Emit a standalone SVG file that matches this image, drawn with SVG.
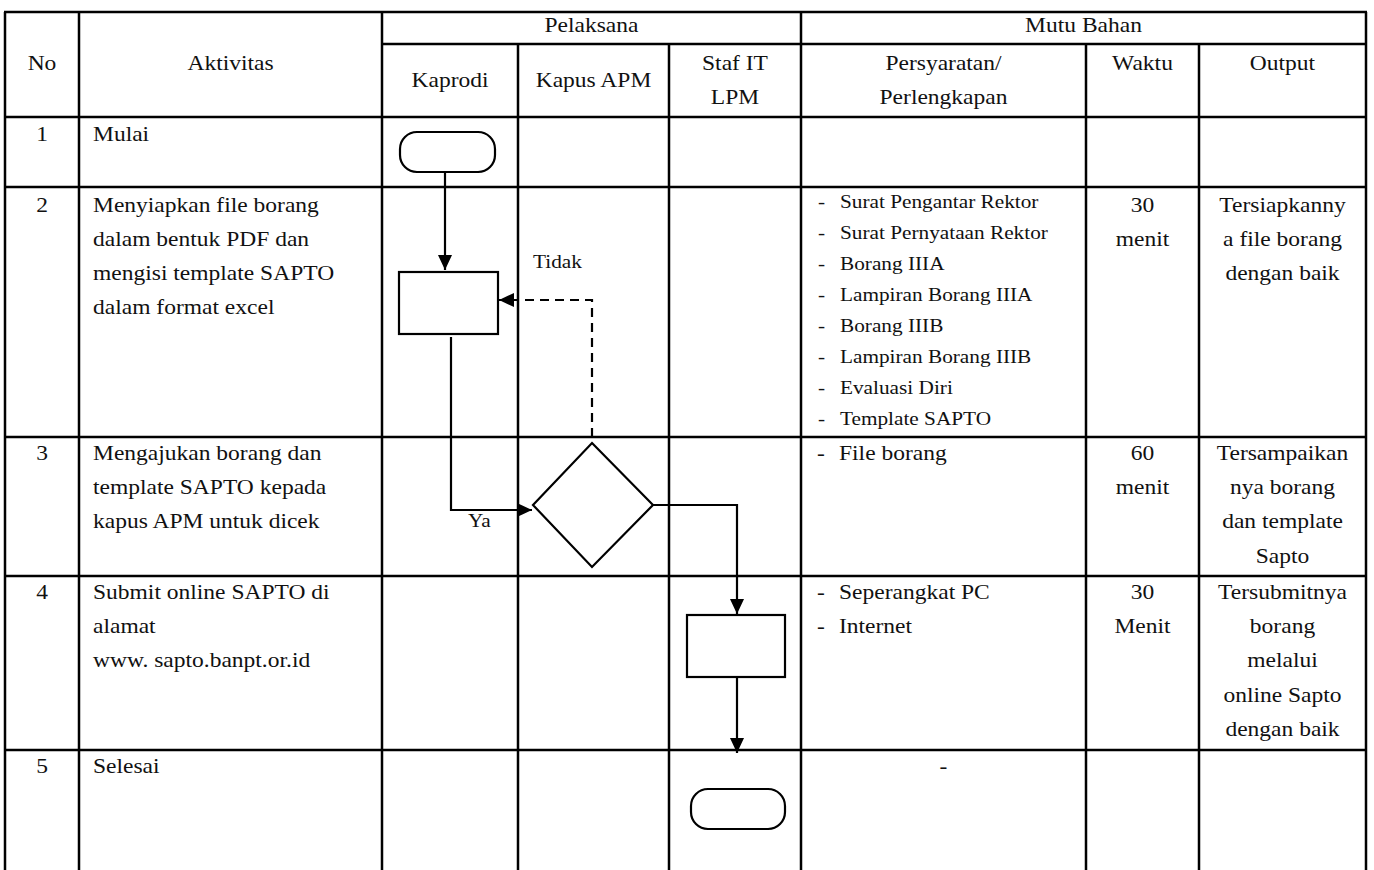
<svg xmlns="http://www.w3.org/2000/svg" width="1374" height="870" viewBox="0 0 1374 870">
<style>
.grid line{stroke:#000;stroke-width:2.5}
.t{font-family:"Liberation Serif","Times New Roman",serif;font-size:21px;fill:#111}
.s{font-family:"Liberation Serif","Times New Roman",serif;font-size:19px;fill:#111}
.m{text-anchor:middle}
.shape{fill:#fff;stroke:#000;stroke-width:2.2}
.conn{fill:none;stroke:#000;stroke-width:2.2}
.dash{stroke-dasharray:9 6}
</style>
<defs>
<marker id="ah" markerUnits="userSpaceOnUse" markerWidth="16" markerHeight="16" refX="15" refY="7" orient="auto">
<path d="M0,0 L15,7 L0,14 z" fill="#000"/>
</marker>
</defs>
<rect width="1374" height="870" fill="#fff"/>
<g class="grid" id="table">
<line x1="4" y1="12" x2="1367" y2="12"/>
<line x1="382" y1="44" x2="1367" y2="44"/>
<line x1="4" y1="117" x2="1367" y2="117"/>
<line x1="4" y1="187" x2="1367" y2="187"/>
<line x1="4" y1="437" x2="1367" y2="437"/>
<line x1="4" y1="576" x2="1367" y2="576"/>
<line x1="4" y1="750" x2="1367" y2="750"/>
<line x1="5" y1="12" x2="5" y2="870"/>
<line x1="79" y1="12" x2="79" y2="870"/>
<line x1="382" y1="12" x2="382" y2="870"/>
<line x1="518" y1="44" x2="518" y2="870"/>
<line x1="669" y1="44" x2="669" y2="870"/>
<line x1="801" y1="12" x2="801" y2="870"/>
<line x1="1086" y1="44" x2="1086" y2="870"/>
<line x1="1199" y1="44" x2="1199" y2="870"/>
<line x1="1366" y1="12" x2="1366" y2="870"/>
</g>
<g id="header">
<text class="t m" transform="translate(591.5 32) scale(1.12 1)">Pelaksana</text>
<text class="t m" transform="translate(1083.5 32) scale(1.12 1)">Mutu Bahan</text>
<text class="t m" transform="translate(42 70) scale(1.12 1)">No</text>
<text class="t m" transform="translate(230.5 70) scale(1.12 1)">Aktivitas</text>
<text class="t m" transform="translate(450 87) scale(1.12 1)">Kaprodi</text>
<text class="t m" transform="translate(593.5 87) scale(1.12 1)">Kapus APM</text>
<text class="t m" transform="translate(735 70) scale(1.12 1)"><tspan x="0">Staf IT</tspan><tspan x="0" dy="34">LPM</tspan></text>
<text class="t m" transform="translate(943.5 70) scale(1.12 1)"><tspan x="0">Persyaratan/</tspan><tspan x="0" dy="34">Perlengkapan</tspan></text>
<text class="t m" transform="translate(1142.5 70) scale(1.12 1)">Waktu</text>
<text class="t m" transform="translate(1282.5 70) scale(1.12 1)">Output</text>
</g>
<g id="row1">
<text class="t m" transform="translate(42 141) scale(1.12 1)">1</text>
<text class="t" transform="translate(93 141) scale(1.12 1)">Mulai</text>
</g>
<g id="row2">
<text class="t m" transform="translate(42 212) scale(1.12 1)">2</text>
<text class="t" transform="translate(93 212) scale(1.12 1)"><tspan x="0">Menyiapkan file borang</tspan><tspan x="0" dy="34">dalam bentuk PDF dan</tspan><tspan x="0" dy="34">mengisi template SAPTO</tspan><tspan x="0" dy="34">dalam format excel</tspan></text>
<text class="s" transform="translate(818 208) scale(1.12 1)"><tspan x="0">-</tspan><tspan x="0" dy="31">-</tspan><tspan x="0" dy="31">-</tspan><tspan x="0" dy="31">-</tspan><tspan x="0" dy="31">-</tspan><tspan x="0" dy="31">-</tspan><tspan x="0" dy="31">-</tspan><tspan x="0" dy="31">-</tspan></text>
<text class="s" transform="translate(840 208) scale(1.12 1)"><tspan x="0">Surat Pengantar Rektor</tspan><tspan x="0" dy="31">Surat Pernyataan Rektor</tspan><tspan x="0" dy="31">Borang IIIA</tspan><tspan x="0" dy="31">Lampiran Borang IIIA</tspan><tspan x="0" dy="31">Borang IIIB</tspan><tspan x="0" dy="31">Lampiran Borang IIIB</tspan><tspan x="0" dy="31">Evaluasi Diri</tspan><tspan x="0" dy="31">Template SAPTO</tspan></text>
<text class="t m" transform="translate(1142.5 212) scale(1.12 1)"><tspan x="0">30</tspan><tspan x="0" dy="34">menit</tspan></text>
<text class="t m" transform="translate(1282.5 212) scale(1.12 1)"><tspan x="0">Tersiapkanny</tspan><tspan x="0" dy="34">a file borang</tspan><tspan x="0" dy="34">dengan baik</tspan></text>
</g>
<g id="row3">
<text class="t m" transform="translate(42 460) scale(1.12 1)">3</text>
<text class="t" transform="translate(93 460) scale(1.12 1)"><tspan x="0">Mengajukan borang dan</tspan><tspan x="0" dy="34">template SAPTO kepada</tspan><tspan x="0" dy="34">kapus APM untuk dicek</tspan></text>
<text class="t" transform="translate(817 460) scale(1.12 1)">-</text>
<text class="t" transform="translate(839 460) scale(1.12 1)">File borang</text>
<text class="t m" transform="translate(1142.5 460) scale(1.12 1)"><tspan x="0">60</tspan><tspan x="0" dy="34">menit</tspan></text>
<text class="t m" transform="translate(1282.5 460) scale(1.12 1)"><tspan x="0">Tersampaikan</tspan><tspan x="0" dy="34">nya borang</tspan><tspan x="0" dy="34">dan template</tspan><tspan x="0" dy="35">Sapto</tspan></text>
</g>
<g id="row4">
<text class="t m" transform="translate(42 599) scale(1.12 1)">4</text>
<text class="t" transform="translate(93 599) scale(1.12 1)"><tspan x="0">Submit online SAPTO di</tspan><tspan x="0" dy="34">alamat</tspan><tspan x="0" dy="34">www. sapto.banpt.or.id</tspan></text>
<text class="t" transform="translate(817 599) scale(1.12 1)"><tspan x="0">-</tspan><tspan x="0" dy="34">-</tspan></text>
<text class="t" transform="translate(839 599) scale(1.12 1)"><tspan x="0">Seperangkat PC</tspan><tspan x="0" dy="34">Internet</tspan></text>
<text class="t m" transform="translate(1142.5 599) scale(1.12 1)"><tspan x="0">30</tspan><tspan x="0" dy="34">Menit</tspan></text>
<text class="t m" transform="translate(1282.5 599) scale(1.12 1)"><tspan x="0">Tersubmitnya</tspan><tspan x="0" dy="34">borang</tspan><tspan x="0" dy="34">melalui</tspan><tspan x="0" dy="35">online Sapto</tspan><tspan x="0" dy="34">dengan baik</tspan></text>
</g>
<g id="row5">
<text class="t m" transform="translate(42 773) scale(1.12 1)">5</text>
<text class="t" transform="translate(93 773) scale(1.12 1)">Selesai</text>
<text class="t m" transform="translate(943.5 773) scale(1.12 1)">-</text>
</g>
<g id="connectors">
<path class="conn" d="M445,173 L445,270" marker-end="url(#ah)"/>
<path class="conn" d="M451,337 L451,510 L532,510" marker-end="url(#ah)"/>
<path class="conn dash" d="M592,437 L592,300 L499,300" marker-end="url(#ah)"/>
<path class="conn" d="M653,505 L737,505 L737,614" marker-end="url(#ah)"/>
<path class="conn" d="M737,673 L737,753" marker-end="url(#ah)"/>
<text class="s" transform="translate(533 268) scale(1.12 1)">Tidak</text>
<text class="s" transform="translate(468 527) scale(1.12 1)">Ya</text>
</g>
<g id="start"><rect class="shape" x="400" y="132" width="95" height="40" rx="17"/></g>
<g id="prepare"><rect class="shape" x="399" y="272" width="99" height="62"/></g>
<g id="check"><polygon class="shape" points="592,443 653,505 592,567 533,505"/></g>
<g id="submit"><rect class="shape" x="687" y="615" width="98" height="62"/></g>
<g id="end"><rect class="shape" x="691" y="789" width="94" height="40" rx="17"/></g>
</svg>
